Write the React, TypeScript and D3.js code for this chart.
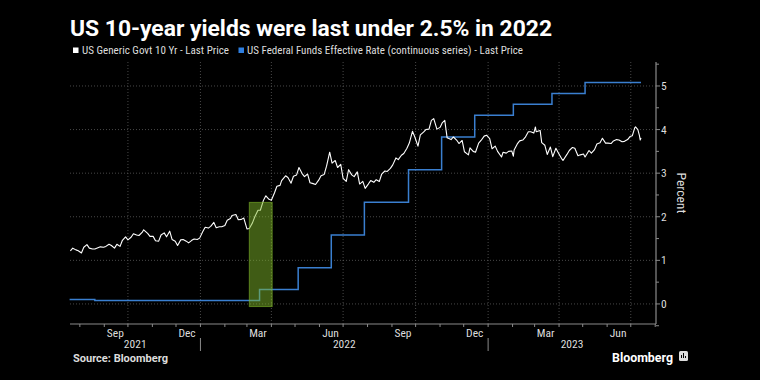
import React from "react";
import * as d3 from "d3";

const ustDates = [
  "2021-07-20","2021-07-23","2021-07-27","2021-07-30","2021-08-03","2021-08-06","2021-08-10","2021-08-13","2021-08-17","2021-08-20","2021-08-24","2021-08-27","2021-08-31","2021-09-03","2021-09-07","2021-09-10","2021-09-14","2021-09-17","2021-09-21","2021-09-24","2021-09-28","2021-10-01","2021-10-05","2021-10-08","2021-10-12","2021-10-15","2021-10-19","2021-10-21","2021-10-26","2021-10-29","2021-11-02","2021-11-05","2021-11-09","2021-11-12","2021-11-16","2021-11-19","2021-11-23","2021-11-26","2021-11-30","2021-12-03","2021-12-07","2021-12-10","2021-12-14","2021-12-17","2021-12-21","2021-12-24","2021-12-28","2021-12-31",
  "2022-01-04","2022-01-07","2022-01-11","2022-01-14","2022-01-18","2022-01-21","2022-01-25","2022-01-28","2022-02-01","2022-02-04","2022-02-08","2022-02-10","2022-02-15","2022-02-18","2022-02-22","2022-02-25","2022-03-01","2022-03-04","2022-03-08","2022-03-11","2022-03-15","2022-03-18","2022-03-22","2022-03-25","2022-03-29","2022-04-01","2022-04-05","2022-04-08","2022-04-12","2022-04-14","2022-04-19","2022-04-22","2022-04-26","2022-04-29","2022-05-03","2022-05-06","2022-05-10","2022-05-13","2022-05-17","2022-05-20","2022-05-24","2022-05-27","2022-05-31","2022-06-03","2022-06-07","2022-06-10","2022-06-14","2022-06-17","2022-06-21","2022-06-24","2022-06-28","2022-07-01","2022-07-05","2022-07-08","2022-07-12","2022-07-15","2022-07-19","2022-07-22","2022-07-26","2022-07-29","2022-08-02","2022-08-05","2022-08-09","2022-08-12","2022-08-16","2022-08-19","2022-08-23","2022-08-26","2022-08-30","2022-09-02","2022-09-06","2022-09-09","2022-09-13","2022-09-16","2022-09-20","2022-09-23","2022-09-27","2022-09-30","2022-10-04","2022-10-07","2022-10-11","2022-10-14","2022-10-18","2022-10-21","2022-10-24","2022-10-28","2022-11-01","2022-11-04","2022-11-07","2022-11-10","2022-11-15","2022-11-18","2022-11-22","2022-11-25","2022-11-29","2022-12-02","2022-12-07","2022-12-09","2022-12-13","2022-12-16","2022-12-20","2022-12-23","2022-12-27","2022-12-30",
  "2023-01-03","2023-01-06","2023-01-10","2023-01-13","2023-01-18","2023-01-20","2023-01-24","2023-01-27","2023-01-31","2023-02-02","2023-02-03","2023-02-07","2023-02-10","2023-02-14","2023-02-17","2023-02-21","2023-02-24","2023-02-28","2023-03-02","2023-03-03","2023-03-08","2023-03-10","2023-03-14","2023-03-17","2023-03-21","2023-03-24","2023-03-28","2023-03-31","2023-04-04","2023-04-06","2023-04-11","2023-04-14","2023-04-18","2023-04-21","2023-04-25","2023-04-28","2023-05-02","2023-05-04","2023-05-09","2023-05-12","2023-05-16","2023-05-19","2023-05-23","2023-05-26","2023-05-30","2023-06-02","2023-06-06","2023-06-09","2023-06-13","2023-06-16","2023-06-20","2023-06-23","2023-06-27","2023-06-30","2023-07-03","2023-07-06","2023-07-07","2023-07-10","2023-07-12","2023-07-13","2023-07-14"
];
const ustValues = [
  1.22,1.28,1.24,1.22,1.17,1.30,1.36,1.28,1.26,1.26,1.29,1.31,1.30,1.32,1.37,1.34,1.28,1.37,1.32,1.46,1.54,1.47,1.53,1.61,1.58,1.57,1.64,1.70,1.62,1.55,1.55,1.45,1.44,1.58,1.63,1.54,1.67,1.48,1.44,1.34,1.47,1.48,1.44,1.40,1.46,1.49,1.48,1.51,
  1.66,1.76,1.74,1.78,1.87,1.75,1.77,1.77,1.80,1.92,1.96,2.03,2.05,1.93,1.94,1.97,1.72,1.73,1.86,2.00,2.15,2.15,2.38,2.48,2.40,2.38,2.55,2.70,2.72,2.83,2.94,2.90,2.77,2.93,2.96,3.13,2.99,2.92,2.98,2.78,2.76,2.74,2.84,2.94,2.97,3.16,3.48,3.23,3.29,3.13,3.20,2.88,2.81,3.08,2.96,2.92,3.03,2.75,2.81,2.65,2.75,2.83,2.79,2.85,2.81,2.98,3.05,3.04,3.11,3.19,3.35,3.31,3.41,3.45,3.57,3.69,3.96,3.83,3.62,3.88,3.94,4.00,4.01,4.21,4.25,4.01,4.05,4.16,4.21,3.81,3.77,3.83,3.76,3.68,3.75,3.49,3.42,3.58,3.50,3.48,3.69,3.75,3.85,3.87,
  3.79,3.56,3.62,3.50,3.37,3.48,3.46,3.50,3.51,3.39,3.53,3.67,3.74,3.76,3.82,3.95,3.95,3.92,4.06,3.95,3.98,3.70,3.64,3.43,3.60,3.38,3.57,3.47,3.34,3.29,3.43,3.52,3.59,3.57,3.40,3.42,3.44,3.37,3.52,3.46,3.54,3.67,3.70,3.80,3.69,3.69,3.68,3.74,3.77,3.76,3.72,3.73,3.77,3.84,3.86,4.04,4.06,4.00,3.86,3.76,3.81
];

const fedDates = ["2021-07-19","2021-08-20","2022-03-17","2022-05-05","2022-06-16","2022-07-28","2022-09-22","2022-11-03","2022-12-15","2023-02-02","2023-03-23","2023-05-04","2023-07-14"];
const fedValues = [0.10,0.08,0.33,0.83,1.58,2.33,3.08,3.83,4.33,4.58,4.83,5.08,5.08];

const highlightDates = ["2022-03-04","2022-04-02"];
const highlightRange = [-0.06, 2.33];

const yTicks = [0, 1, 2, 3, 4, 5];
const yMinorTicks = [-0.5, 0.5, 1.5, 2.5, 3.5, 4.5, 5.5];

const titleText = "US 10-year yields were last under 2.5% in 2022";
const legendLabels = ["US Generic Govt 10 Yr - Last Price", "US Federal Funds Effective Rate (continuous series) - Last Price"];
const yAxisTitle = "Percent";
const sourceText = "Source: Bloomberg";

const parse = (s: string) => new Date(s + "T00:00:00Z");

export default function App() {
  const W = 760, H = 380;
  const left = 70, right = 656, top = 62, bottom = 324;
  const x = d3.scaleUtc().domain([new Date(Date.UTC(2021, 6, 19, 12)), new Date(Date.UTC(2023, 7, 2))]).range([left, right]);
  const y = d3.scaleLinear().domain([-0.46, 5.55]).range([bottom, top]);

  const ust = ustDates.map((d, i) => ({ date: parse(d), v: ustValues[i] }));
  const fed = fedDates.map((d, i) => ({ date: parse(d), v: fedValues[i] }));

  const line = d3.line<{ date: Date; v: number }>().x(d => x(d.date)).y(d => y(d.v));
  const stepLine = d3.line<{ date: Date; v: number }>().x(d => x(d.date)).y(d => y(d.v)).curve(d3.curveStepAfter);

  const [d0, d1] = x.domain();
  const months = d3.utcMonth.range(d3.utcMonth.ceil(d0), d1);
  const quarters = months.filter(m => m.getUTCMonth() % 3 === 0);
  const labelMonths = months.filter(m => m.getUTCMonth() % 3 === 2).map(m => new Date(Date.UTC(m.getUTCFullYear(), m.getUTCMonth(), 15)));
  const yearStarts = d3.utcYear.range(d3.utcYear.ceil(d0), d1);
  const yearBounds = [left, ...yearStarts.map(d => x(d)), right];
  const years = [2021, 2022, 2023];
  const fmt = d3.utcFormat("%b");

  const hx0 = x(parse(highlightDates[0]));
  const hx1 = x(parse(highlightDates[1]));
  const hy0 = y(highlightRange[1]);
  const hy1 = y(highlightRange[0]);

  const font = "'Liberation Sans Narrow', 'Roboto Condensed', Roboto, 'Liberation Sans', sans-serif";

  return (
    <svg width={W} height={H} style={{ position: "absolute", left: 0, top: 0, background: "#000" }} fontFamily={font}>
      <rect x={0} y={0} width={W} height={H} fill="#000" />
      <text x={70} y={36} fill="#fff" fontSize={21.5} fontWeight="bold" fontFamily="Roboto, sans-serif" textLength={482} lengthAdjust="spacingAndGlyphs">{titleText}</text>
      {/* legend */}
      <rect x={73} y={47.5} width={5.5} height={5.5} fill="#ffffff" />
      <text x={82} y={54} fill="#ddd" fontSize={10.5} textLength={147} lengthAdjust="spacingAndGlyphs">{legendLabels[0]}</text>
      <rect x={238.5} y={47.5} width={5.5} height={5.5} fill="#2f7fe0" />
      <text x={247} y={54} fill="#ddd" fontSize={10.5} textLength={276} lengthAdjust="spacingAndGlyphs">{legendLabels[1]}</text>

      {/* grid */}
      {yTicks.map(t => (
        <line key={"gy" + t} x1={left} x2={right} y1={y(t)} y2={y(t)} stroke="#5a5a5a" strokeWidth={0.8} strokeDasharray="1,2" />
      ))}
      {quarters.map((q, i) => (
        <line key={"gx" + i} x1={x(q)} x2={x(q)} y1={top} y2={bottom} stroke="#5a5a5a" strokeWidth={0.8} strokeDasharray="1,2" />
      ))}

      {/* series */}
      <path d={stepLine(fed) || ""} fill="none" stroke="#3a7fd0" strokeWidth={1.5} />
      <path d={line(ust) || ""} fill="none" stroke="#ffffff" strokeWidth={1.1} strokeLinejoin="round" />

      {/* highlight */}
      <rect x={hx0} y={hy0} width={hx1 - hx0} height={hy1 - hy0} fill="#7fb82a" fillOpacity={0.5} stroke="#7fb82a" strokeOpacity={0.6} strokeWidth={1} />

      {/* x axis */}
      <line x1={left} x2={right} y1={bottom} y2={bottom} stroke="#8a8a8a" strokeWidth={1.2} />
      {months.map((m, i) => (
        <line key={"mt" + i} x1={x(m)} x2={x(m)} y1={bottom} y2={bottom + 3} stroke="#8a8a8a" strokeWidth={1} />
      ))}
      {labelMonths.map((m, i) => (
        <text key={"ml" + i} x={x(m)} y={337} fill="#ddd" fontSize={11.5} textAnchor="middle">{fmt(m)}</text>
      ))}
      {yearStarts.map((d, i) => (
        <line key={"ys" + i} x1={x(d)} x2={x(d)} y1={338} y2={351} stroke="#8a8a8a" strokeWidth={1} />
      ))}
      {years.map((yr, i) => (
        <text key={"yr" + yr} x={(yearBounds[i] + yearBounds[i + 1]) / 2} y={348} fill="#ddd" fontSize={11.5} textAnchor="middle">{yr}</text>
      ))}

      {/* y axis */}
      <line x1={right} x2={right} y1={top} y2={bottom} stroke="#8a8a8a" strokeWidth={1.2} />
      {yTicks.map(t => (
        <g key={"yt" + t}>
          <line x1={right} x2={right + 4} y1={y(t)} y2={y(t)} stroke="#8a8a8a" strokeWidth={1} />
          <text x={661} y={y(t) + 4} fill="#ddd" fontSize={11.5}>{t}</text>
        </g>
      ))}
      {yMinorTicks.map(t => (
        <line key={"ym" + t} x1={right} x2={right + 3} y1={y(t)} y2={y(t)} stroke="#8a8a8a" strokeWidth={1} />
      ))}
      <text transform={`translate(677,193) rotate(90)`} fill="#ddd" fontSize={13.5} textAnchor="middle">{yAxisTitle}</text>

      {/* footer */}
      <text x={73} y={362} fill="#ddd" fontSize={10} fontWeight="bold" fontFamily="Roboto, sans-serif" textLength={95} lengthAdjust="spacingAndGlyphs">{sourceText}</text>
      <text x={612} y={362} fill="#fff" fontSize={13} fontWeight="bold" fontFamily="Roboto, sans-serif" textLength={61} lengthAdjust="spacingAndGlyphs">Bloomberg</text>
      <rect x={679} y={351} width={9} height={10} rx={1.5} fill="#ddd" />
      <line x1={681.5} x2={681.5} y1={358} y2={355} stroke="#000" strokeWidth={1} />
      <line x1={683.5} x2={683.5} y1={358} y2={353} stroke="#000" strokeWidth={1} />
      <line x1={685.5} x2={685.5} y1={358} y2={356} stroke="#000" strokeWidth={1} />
    </svg>
  );
}
